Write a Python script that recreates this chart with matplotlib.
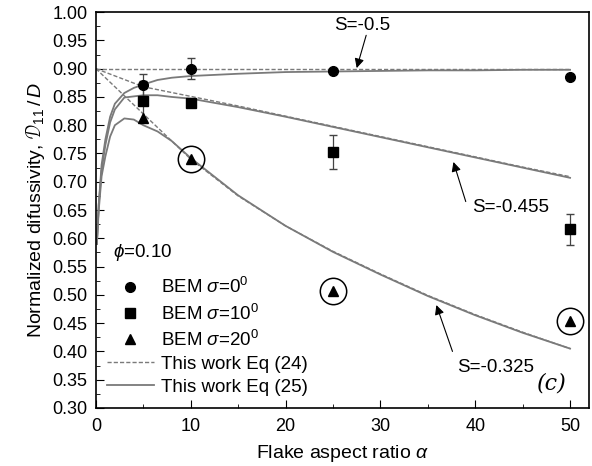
import numpy as np
import matplotlib.pyplot as plt
from matplotlib.ticker import MultipleLocator
from matplotlib.lines import Line2D

plt.rcParams['font.family'] = ['Liberation Sans', 'DejaVu Sans']
plt.rcParams['mathtext.fontset'] = 'custom'
plt.rcParams['mathtext.rm'] = 'Liberation Sans'
plt.rcParams['mathtext.it'] = 'Liberation Sans:italic'

# BEM results
alpha_bem = [5, 10, 25, 50]
bem_s0 = [0.871, 0.900, 0.895, 0.886]
err_s0 = [0.020, 0.018, 0.0, 0.0]
bem_s10 = [0.843, 0.840, 0.753, 0.616]
err_s10 = [0.035, 0.0, 0.030, 0.027]
bem_s20 = [0.812, 0.741, 0.506, 0.454]
circled_alpha = [10, 25, 50]
circled_val = [0.741, 0.506, 0.454]

# Eq (24) - dashed curves
a_dash = [0, 5, 10, 15, 20, 25, 30, 35, 40, 45, 50]
eq24_s05 = [0.900, 0.900, 0.900, 0.900, 0.900, 0.900, 0.900, 0.900, 0.900, 0.900, 0.900]
eq24_s0455 = [0.900, 0.868, 0.851, 0.834, 0.816, 0.798, 0.780, 0.762, 0.744, 0.726, 0.709]
eq24_s0325 = [0.900, 0.820, 0.740, 0.675, 0.622, 0.577, 0.537, 0.499, 0.465, 0.434, 0.405]

# Eq (25) - solid curves
a_sol = [0.1, 0.3, 0.6, 1.0, 1.5, 2.0, 3.0, 4.0, 5.0, 6.5, 8, 10, 15, 20, 25, 30, 35, 40, 45, 50]
eq25_s0 = [0.59, 0.66, 0.73, 0.775, 0.815, 0.838, 0.857, 0.866, 0.872, 0.880, 0.884, 0.887,
           0.891, 0.894, 0.895, 0.896, 0.897, 0.897, 0.898, 0.898]
eq25_s10 = [0.59, 0.66, 0.72, 0.765, 0.805, 0.828, 0.849, 0.851, 0.853, 0.853, 0.850, 0.847,
            0.832, 0.815, 0.797, 0.779, 0.761, 0.743, 0.725, 0.707]
eq25_s20 = [0.59, 0.65, 0.71, 0.745, 0.78, 0.800, 0.812, 0.810, 0.800, 0.789, 0.772, 0.742,
            0.676, 0.622, 0.576, 0.536, 0.498, 0.464, 0.433, 0.405]

fig = plt.figure(figsize=(5.92, 4.66), dpi=100)
ax = fig.add_axes([0.162, 0.1245, 0.833, 0.8495])

gray = '#7a7a7a'
ax.plot(a_dash, eq24_s05, '--', color=gray, lw=1.0, dashes=(3, 1.5))
ax.plot(a_dash, eq24_s0455, '--', color=gray, lw=1.0, dashes=(3, 1.5))
ax.plot(a_dash, eq24_s0325, '--', color=gray, lw=1.0, dashes=(3, 1.5))
ax.plot(a_sol, eq25_s0, '-', color=gray, lw=1.3)
ax.plot(a_sol, eq25_s10, '-', color=gray, lw=1.3)
ax.plot(a_sol, eq25_s20, '-', color=gray, lw=1.3)

ax.errorbar(alpha_bem, bem_s0, yerr=err_s0, fmt='o', color='black', ms=7,
            ecolor='#444444', elinewidth=0.9, capsize=3)
ax.errorbar(alpha_bem, bem_s10, yerr=err_s10, fmt='s', color='black', ms=6.5,
            ecolor='#444444', elinewidth=0.9, capsize=3)
ax.plot(alpha_bem, bem_s20, '^', color='black', ms=7, linestyle='none')
ax.plot(circled_alpha, circled_val, 'o', mfc='none', mec='black', ms=19, mew=1.1, linestyle='none')

# annotations
arrow = dict(arrowstyle='-|>', color='black', lw=0.8, shrinkA=0, shrinkB=0, mutation_scale=14)
ax.text(28.1, 0.976, 'S=-0.5', fontsize=13.5, ha='center', va='center')
ax.annotate('', xy=(27.5, 0.901), xytext=(28.5, 0.959), arrowprops=arrow)
ax.text(43.7, 0.654, 'S=-0.455', fontsize=13.5, ha='center', va='center')
ax.annotate('', xy=(37.7, 0.735), xytext=(39.0, 0.665), arrowprops=arrow)
ax.text(42.1, 0.371, 'S=-0.325', fontsize=13.5, ha='center', va='center')
ax.annotate('', xy=(35.9, 0.482), xytext=(37.6, 0.400), arrowprops=arrow)
ax.text(48.1, 0.344, '(c)', fontsize=16, family='DejaVu Serif', style='italic', ha='center', va='center')
ax.text(1.8, 0.575, r'$\phi$=0.10', fontsize=13.5, ha='left', va='center')

handles = [
    Line2D([], [], marker='o', color='black', ms=7, linestyle='none'),
    Line2D([], [], marker='s', color='black', ms=6.5, linestyle='none'),
    Line2D([], [], marker='^', color='black', ms=7, linestyle='none'),
    Line2D([], [], color=gray, lw=1.0, linestyle='--', dashes=(3, 1.5)),
    Line2D([], [], color=gray, lw=1.3),
]
labels = [r'BEM $\sigma$=0$^0$', r'BEM $\sigma$=10$^0$', r'BEM $\sigma$=20$^0$',
          'This work Eq (24)', 'This work Eq (25)']
ax.legend(handles, labels, loc='lower left', bbox_to_anchor=(-0.012, -0.012), frameon=False,
          fontsize=13.5, handlelength=2.5, handletextpad=0.4, labelspacing=0.32)

ax.set_xlim(0, 52)
ax.set_ylim(0.30, 1.00)
ax.xaxis.set_major_locator(MultipleLocator(10))
ax.xaxis.set_minor_locator(MultipleLocator(5))
ax.yaxis.set_major_locator(MultipleLocator(0.05))
ax.yaxis.set_minor_locator(MultipleLocator(0.025))
ax.yaxis.set_major_formatter(plt.FormatStrFormatter('%.2f'))
ax.tick_params(which='both', direction='in', labelsize=13)
ax.tick_params(which='major', length=6)
ax.tick_params(which='minor', length=3)
ax.tick_params(axis='x', which='major', pad=7)
ax.tick_params(axis='y', which='major', pad=6)
for s in ax.spines.values():
    s.set_linewidth(1.2)

ax.set_xlabel(r'Flake aspect ratio $\alpha$', fontsize=14, labelpad=6)
ax.set_ylabel(r'Normalized difussivity, $\mathcal{D}_{11}\,/\,D$', fontsize=14, labelpad=4)

fig.savefig('out.png', dpi=100)
